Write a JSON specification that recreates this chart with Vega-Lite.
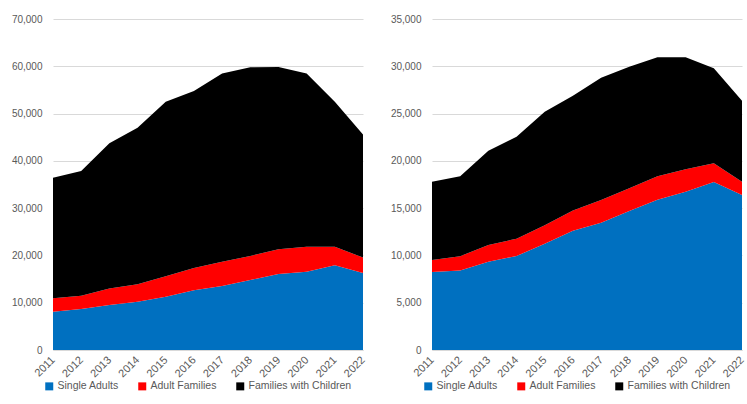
{
  "$schema": "https://vega.github.io/schema/vega-lite/v6.json",
  "padding": {"left": 11, "top": 14, "right": 0, "bottom": 0},
  "spacing": 23,
  "background": "white",
  "config": {
    "font": "Liberation Sans",
    "view": {"stroke": null},
    "axis": {"labelFont": "Liberation Sans", "labelFontSize": 10, "labelColor": "#595959", "ticks": false, "gridColor": "#D9D9D9", "domainColor": "#D9D9D9", "title": null},
    "legend": {"labelFont": "Liberation Sans", "labelFontSize": 10.5, "labelColor": "#595959", "symbolType": "square", "symbolSize": 64, "symbolStrokeWidth": 0, "labelOffset": 3, "columnPadding": 18, "orient": "none", "legendX": -9, "legendY": 362, "direction": "horizontal", "title": null}
  },
  "datasets": {
    "left": [
      {"Year": "2011", "Series": "Single Adults", "Value": 8100},
      {"Year": "2012", "Series": "Single Adults", "Value": 8650},
      {"Year": "2013", "Series": "Single Adults", "Value": 9500},
      {"Year": "2014", "Series": "Single Adults", "Value": 10200},
      {"Year": "2015", "Series": "Single Adults", "Value": 11250},
      {"Year": "2016", "Series": "Single Adults", "Value": 12650},
      {"Year": "2017", "Series": "Single Adults", "Value": 13550},
      {"Year": "2018", "Series": "Single Adults", "Value": 14800},
      {"Year": "2019", "Series": "Single Adults", "Value": 16050},
      {"Year": "2020", "Series": "Single Adults", "Value": 16550},
      {"Year": "2021", "Series": "Single Adults", "Value": 17900},
      {"Year": "2022", "Series": "Single Adults", "Value": 16300},
      {"Year": "2011", "Series": "Adult Families", "Value": 2850},
      {"Year": "2012", "Series": "Adult Families", "Value": 2830},
      {"Year": "2013", "Series": "Adult Families", "Value": 3500},
      {"Year": "2014", "Series": "Adult Families", "Value": 3700},
      {"Year": "2015", "Series": "Adult Families", "Value": 4350},
      {"Year": "2016", "Series": "Adult Families", "Value": 4700},
      {"Year": "2017", "Series": "Adult Families", "Value": 5100},
      {"Year": "2018", "Series": "Adult Families", "Value": 5100},
      {"Year": "2019", "Series": "Adult Families", "Value": 5250},
      {"Year": "2020", "Series": "Adult Families", "Value": 5300},
      {"Year": "2021", "Series": "Adult Families", "Value": 3950},
      {"Year": "2022", "Series": "Adult Families", "Value": 3250},
      {"Year": "2011", "Series": "Families with Children", "Value": 25500},
      {"Year": "2012", "Series": "Families with Children", "Value": 26370},
      {"Year": "2013", "Series": "Families with Children", "Value": 30700},
      {"Year": "2014", "Series": "Families with Children", "Value": 33100},
      {"Year": "2015", "Series": "Families with Children", "Value": 36900},
      {"Year": "2016", "Series": "Families with Children", "Value": 37400},
      {"Year": "2017", "Series": "Families with Children", "Value": 39850},
      {"Year": "2018", "Series": "Families with Children", "Value": 39900},
      {"Year": "2019", "Series": "Families with Children", "Value": 38550},
      {"Year": "2020", "Series": "Families with Children", "Value": 36650},
      {"Year": "2021", "Series": "Families with Children", "Value": 30650},
      {"Year": "2022", "Series": "Families with Children", "Value": 26050}
    ],
    "right": [
      {"Year": "2011", "Series": "Single Adults", "Value": 8250},
      {"Year": "2012", "Series": "Single Adults", "Value": 8400},
      {"Year": "2013", "Series": "Single Adults", "Value": 9340},
      {"Year": "2014", "Series": "Single Adults", "Value": 9950},
      {"Year": "2015", "Series": "Single Adults", "Value": 11230},
      {"Year": "2016", "Series": "Single Adults", "Value": 12600},
      {"Year": "2017", "Series": "Single Adults", "Value": 13450},
      {"Year": "2018", "Series": "Single Adults", "Value": 14700},
      {"Year": "2019", "Series": "Single Adults", "Value": 15900},
      {"Year": "2020", "Series": "Single Adults", "Value": 16740},
      {"Year": "2021", "Series": "Single Adults", "Value": 17770},
      {"Year": "2022", "Series": "Single Adults", "Value": 16390},
      {"Year": "2011", "Series": "Adult Families", "Value": 1270},
      {"Year": "2012", "Series": "Adult Families", "Value": 1520},
      {"Year": "2013", "Series": "Adult Families", "Value": 1760},
      {"Year": "2014", "Series": "Adult Families", "Value": 1820},
      {"Year": "2015", "Series": "Adult Families", "Value": 1950},
      {"Year": "2016", "Series": "Adult Families", "Value": 2160},
      {"Year": "2017", "Series": "Adult Families", "Value": 2410},
      {"Year": "2018", "Series": "Adult Families", "Value": 2400},
      {"Year": "2019", "Series": "Adult Families", "Value": 2480},
      {"Year": "2020", "Series": "Adult Families", "Value": 2380},
      {"Year": "2021", "Series": "Adult Families", "Value": 1980},
      {"Year": "2022", "Series": "Adult Families", "Value": 1410},
      {"Year": "2011", "Series": "Families with Children", "Value": 8280},
      {"Year": "2012", "Series": "Families with Children", "Value": 8450},
      {"Year": "2013", "Series": "Families with Children", "Value": 9970},
      {"Year": "2014", "Series": "Families with Children", "Value": 10780},
      {"Year": "2015", "Series": "Families with Children", "Value": 12020},
      {"Year": "2016", "Series": "Families with Children", "Value": 12130},
      {"Year": "2017", "Series": "Families with Children", "Value": 12930},
      {"Year": "2018", "Series": "Families with Children", "Value": 12860},
      {"Year": "2019", "Series": "Families with Children", "Value": 12570},
      {"Year": "2020", "Series": "Families with Children", "Value": 11830},
      {"Year": "2021", "Series": "Families with Children", "Value": 10040},
      {"Year": "2022", "Series": "Families with Children", "Value": 8560}
    ]
  },
  "hconcat": [
    {
      "width": 310,
      "height": 331,
      "data": {"name": "left"},
      "transform": [{"calculate": "indexof(['Single Adults','Adult Families','Families with Children'], datum.Series)", "as": "StackOrder"}],
      "mark": {"type": "area", "interpolate": "linear"},
      "encoding": {
        "x": {"field": "Year", "type": "ordinal", "scale": {"type": "point", "padding": 0}, "axis": {"labelAngle": -45, "labelAlign": "right", "labelBaseline": "middle", "labelFontSize": 11, "grid": false, "labelPadding": 8}},
        "y": {"field": "Value", "type": "quantitative", "stack": "zero", "scale": {"domain": [0, 70000], "nice": false}, "axis": {"values": [0, 10000, 20000, 30000, 40000, 50000, 60000, 70000], "format": ",d", "domain": false, "labelPadding": 11, "minExtent": 42, "maxExtent": 42}},
        "color": {"field": "Series", "type": "nominal", "scale": {"domain": ["Single Adults", "Adult Families", "Families with Children"], "range": ["#0070C0", "#FF0000", "#000000"]}},
        "order": {"field": "StackOrder", "type": "quantitative"}
      }
    },
    {
      "width": 310,
      "height": 331,
      "data": {"name": "right"},
      "transform": [{"calculate": "indexof(['Single Adults','Adult Families','Families with Children'], datum.Series)", "as": "StackOrder"}],
      "mark": {"type": "area", "interpolate": "linear"},
      "encoding": {
        "x": {"field": "Year", "type": "ordinal", "scale": {"type": "point", "padding": 0}, "axis": {"labelAngle": -45, "labelAlign": "right", "labelBaseline": "middle", "labelFontSize": 11, "grid": false, "labelPadding": 8}},
        "y": {"field": "Value", "type": "quantitative", "stack": "zero", "scale": {"domain": [0, 35000], "nice": false}, "axis": {"values": [0, 5000, 10000, 15000, 20000, 25000, 30000, 35000], "format": ",d", "domain": false, "labelPadding": 11, "minExtent": 42, "maxExtent": 42}},
        "color": {"field": "Series", "type": "nominal", "scale": {"domain": ["Single Adults", "Adult Families", "Families with Children"], "range": ["#0070C0", "#FF0000", "#000000"]}},
        "order": {"field": "StackOrder", "type": "quantitative"}
      }
    }
  ],
  "resolve": {"scale": {"y": "independent", "color": "independent"}, "legend": {"color": "independent"}}
}
